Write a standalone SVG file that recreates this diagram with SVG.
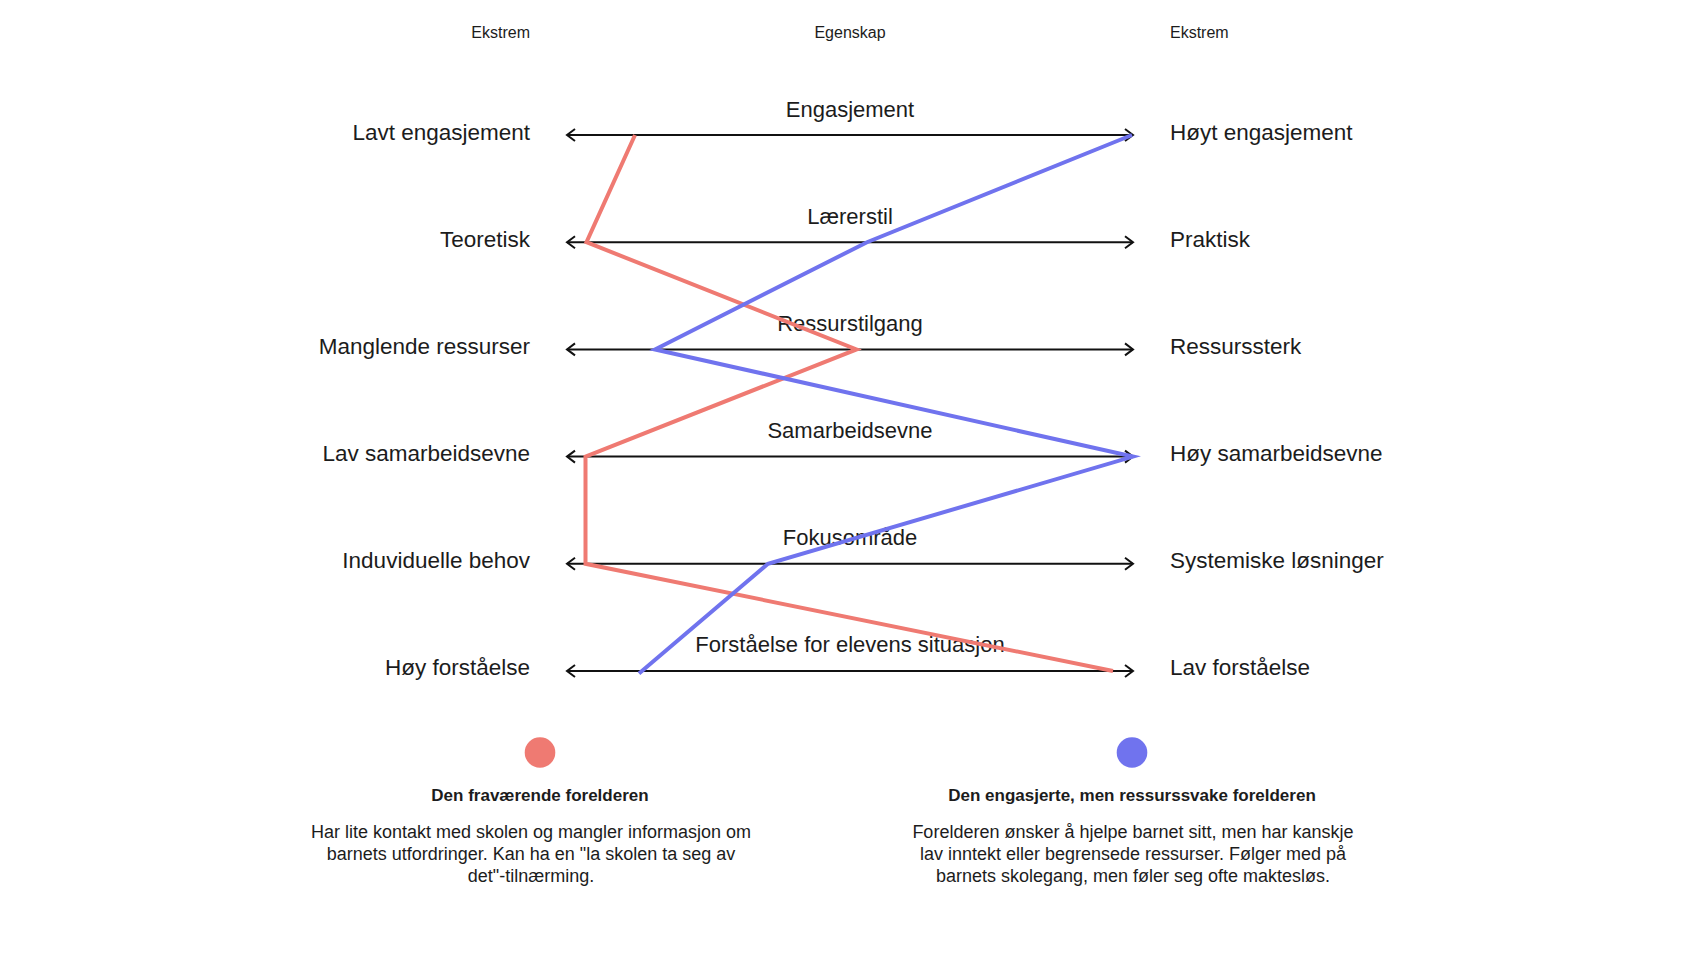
<svg xmlns="http://www.w3.org/2000/svg" width="1700" height="956" viewBox="0 0 1700 956">
  <style>
    text { font-family: "Liberation Sans", Arial, sans-serif; fill: #1c1c1c; }
    .hdr { font-size: 16px; }
    .lbl { font-size: 22.5px; }
    .ax { font-size: 22px; text-anchor: middle; }
    .l { text-anchor: end; }
    .r { text-anchor: start; }
    .ttl { font-size: 17px; font-weight: bold; text-anchor: middle; }
    .desc { font-size: 18px; text-anchor: middle; }
    .axis { stroke: #111; stroke-width: 2; fill: none; marker-start: url(#chev); marker-end: url(#chev); }
    .red { stroke: #ef7a72; stroke-width: 4; fill: none; stroke-linejoin: miter; stroke-miterlimit: 10; }
    .blue { stroke: #7073ee; stroke-width: 4; fill: none; stroke-linejoin: miter; stroke-miterlimit: 10; }
  </style>
  <defs>
    <marker id="chev" markerUnits="userSpaceOnUse" markerWidth="20" markerHeight="20" refX="0" refY="0" viewBox="-10 -10 20 20" orient="auto-start-reverse" overflow="visible">
      <path d="M-8,-6 L0,0 L-8,6" fill="none" stroke="#111" stroke-width="2"/>
    </marker>
  </defs>
  <rect width="1700" height="956" fill="#ffffff"/>

  <g id="headers">
    <text class="hdr l" x="530" y="38">Ekstrem</text>
    <text class="hdr" x="850" y="38" text-anchor="middle">Egenskap</text>
    <text class="hdr r" x="1170" y="38">Ekstrem</text>
  </g>

  <g id="axes">
    <line class="axis" x1="567" y1="135" x2="1133" y2="135"/>
    <line class="axis" x1="567" y1="242.2" x2="1133" y2="242.2"/>
    <line class="axis" x1="567" y1="349.4" x2="1133" y2="349.4"/>
    <line class="axis" x1="567" y1="456.6" x2="1133" y2="456.6"/>
    <line class="axis" x1="567" y1="563.8" x2="1133" y2="563.8"/>
    <line class="axis" x1="567" y1="671" x2="1133" y2="671"/>
  </g>

  <g id="row-engasjement">
    <text class="lbl l" x="530" y="140">Lavt engasjement</text>
    <text class="ax" x="850" y="117">Engasjement</text>
    <text class="lbl r" x="1170" y="140">Høyt engasjement</text>
  </g>
  <g id="row-laererstil">
    <text class="lbl l" x="530" y="247">Teoretisk</text>
    <text class="ax" x="850" y="224">Lærerstil</text>
    <text class="lbl r" x="1170" y="247">Praktisk</text>
  </g>
  <g id="row-ressurstilgang">
    <text class="lbl l" x="530" y="354">Manglende ressurser</text>
    <text class="ax" x="850" y="331">Ressurstilgang</text>
    <text class="lbl r" x="1170" y="354">Ressurssterk</text>
  </g>
  <g id="row-samarbeidsevne">
    <text class="lbl l" x="530" y="461">Lav samarbeidsevne</text>
    <text class="ax" x="850" y="438">Samarbeidsevne</text>
    <text class="lbl r" x="1170" y="461">Høy samarbeidsevne</text>
  </g>
  <g id="row-fokusomraade">
    <text class="lbl l" x="530" y="568">Induviduelle behov</text>
    <text class="ax" x="850" y="545">Fokusområde</text>
    <text class="lbl r" x="1170" y="568">Systemiske løsninger</text>
  </g>
  <g id="row-forstaaelse">
    <text class="lbl l" x="530" y="675">Høy forståelse</text>
    <text class="ax" x="850" y="652">Forståelse for elevens situasjon</text>
    <text class="lbl r" x="1170" y="675">Lav forståelse</text>
  </g>

  <g id="connectors">
    <polyline class="red" points="635,135 586.5,242.2 856.5,349.4 585.5,456.6 585.5,563.8 1113,671"/>
    <polyline class="blue" points="1132,135 867,242.2 655,349.4 1133,456.6 768,563.8 639,673.5"/>
  </g>

  <g id="legend-fravaerende">
    <circle cx="540" cy="752.5" r="15.3" fill="#ef7a72"/>
    <text class="ttl" x="540" y="801">Den fraværende forelderen</text>
    <text class="desc" x="531" y="838">Har lite kontakt med skolen og mangler informasjon om</text>
    <text class="desc" x="531" y="860">barnets utfordringer. Kan ha en "la skolen ta seg av</text>
    <text class="desc" x="531" y="882">det"-tilnærming.</text>
  </g>

  <g id="legend-engasjerte">
    <circle cx="1132" cy="752.5" r="15.3" fill="#7073ee"/>
    <text class="ttl" x="1132" y="801">Den engasjerte, men ressurssvake forelderen</text>
    <text class="desc" x="1133" y="838">Forelderen ønsker å hjelpe barnet sitt, men har kanskje</text>
    <text class="desc" x="1133" y="860">lav inntekt eller begrensede ressurser. Følger med på</text>
    <text class="desc" x="1133" y="882">barnets skolegang, men føler seg ofte maktesløs.</text>
  </g>
</svg>
